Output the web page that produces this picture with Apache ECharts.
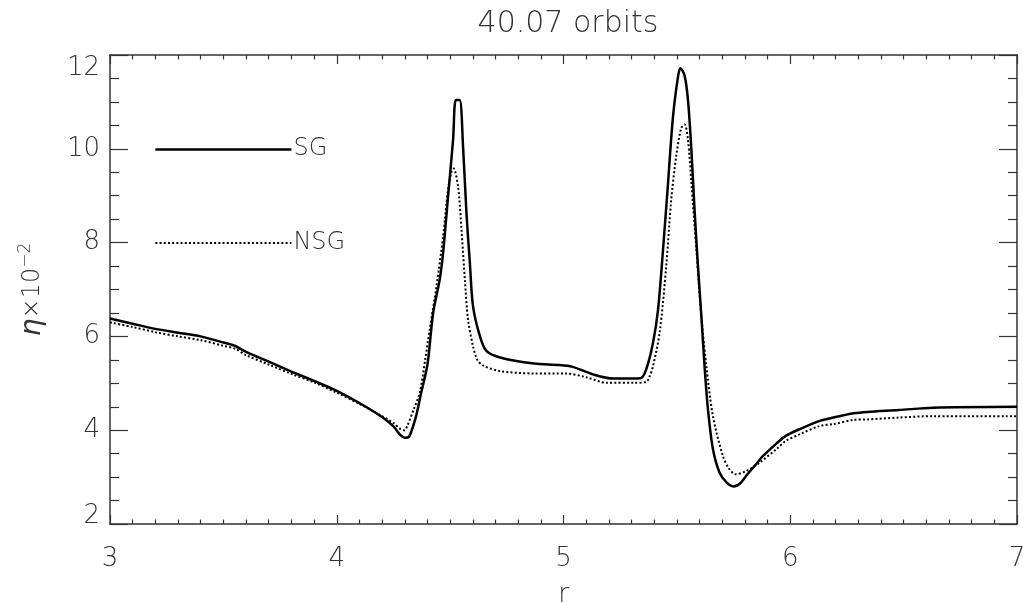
<!DOCTYPE html>
<html>
<head>
<meta charset="utf-8">
<script src="https://cdn.jsdelivr.net/npm/echarts@6/dist/echarts.min.js"></script>
<style>
html,body{margin:0;padding:0;background:#fff;}
#c{width:1023px;height:603px;}
</style>
</head>
<body>
<div id="c"></div>
<script>
const titleText = '40.07 orbits';
const xName = 'r';
const seriesNames = ['SG', 'NSG'];
const sgR = [3.00,3.10,3.20,3.30,3.40,3.50,3.55,3.60,3.70,3.80,3.90,4.00,4.10,4.20,4.25,4.28,4.30,4.32,4.35,4.37,4.40,4.425,4.454,4.469,4.491,4.513,4.525,4.542,4.557,4.572,4.587,4.601,4.631,4.66,4.72,4.87,4.98,5.04,5.13,5.22,5.34,5.365,5.395,5.417,5.439,5.461,5.483,5.505,5.515,5.534,5.549,5.564,5.578,5.593,5.608,5.622,5.637,5.659,5.688,5.72,5.75,5.78,5.806,5.85,5.88,5.94,5.98,6.04,6.13,6.19,6.28,6.34,6.48,6.63,7.00];
const sgEta = [6.38,6.27,6.16,6.08,6.00,5.87,5.80,5.67,5.46,5.25,5.05,4.84,4.58,4.28,4.08,3.90,3.84,3.87,4.30,4.75,5.40,6.50,7.21,7.78,8.99,10.19,11.04,11.04,10.05,8.63,7.57,6.64,6.01,5.69,5.55,5.42,5.39,5.35,5.19,5.10,5.11,5.30,5.87,6.57,7.85,9.27,10.69,11.54,11.72,11.56,11.04,9.98,8.70,7.50,6.43,5.37,4.45,3.60,3.10,2.88,2.80,2.87,3.03,3.28,3.45,3.72,3.88,4.02,4.20,4.27,4.36,4.39,4.43,4.48,4.50];
const nsgR = [3.00,3.10,3.20,3.30,3.40,3.50,3.55,3.60,3.70,3.80,3.90,4.00,4.10,4.20,4.25,4.28,4.30,4.31,4.34,4.366,4.39,4.41,4.44,4.469,4.491,4.505,4.515,4.535,4.55,4.565,4.579,4.601,4.62,4.645,4.72,4.87,5.01,5.10,5.19,5.31,5.365,5.38,5.395,5.424,5.453,5.475,5.497,5.519,5.534,5.549,5.564,5.586,5.608,5.630,5.659,5.703,5.73,5.76,5.806,5.865,5.94,5.98,6.04,6.13,6.19,6.28,6.34,6.48,6.63,7.00];
const nsgEta = [6.30,6.20,6.09,6.00,5.92,5.80,5.74,5.60,5.40,5.20,5.02,4.80,4.56,4.30,4.15,4.03,4.00,4.08,4.45,4.80,5.50,6.15,7.07,8.13,9.13,9.50,9.58,9.20,8.28,7.21,6.36,5.79,5.50,5.38,5.26,5.21,5.21,5.13,5.01,5.01,5.03,5.15,5.37,6.08,7.50,8.91,9.84,10.44,10.52,10.19,9.27,7.85,6.43,5.37,4.30,3.45,3.18,3.06,3.13,3.31,3.60,3.77,3.91,4.09,4.13,4.22,4.23,4.27,4.30,4.30];
const legendR = [3.2, 3.8];
const legendEta = [10, 8];

const FONT = 'DejaVu Sans';
const TXT = '#333';
const AX = '#333';
const zip = (a, b) => a.map((v, i) => [v, b[i]]);

function xAx(pos, showLabel) {
  return {
    type: 'value', position: pos, min: 3, max: 7, interval: 1,
    axisLine: { show: true, onZero: false, lineStyle: { color: AX, width: 1.5 } },
    axisTick: { show: true, inside: true, length: 9, lineStyle: { color: AX, width: 1.2 } },
    minorTick: { show: true, splitNumber: 10, length: 4.5, lineStyle: { color: AX, width: 1.2 } },
    splitLine: { show: false },
    axisLabel: { show: showLabel, fontFamily: FONT, fontWeight: 200, fontSize: 26, color: TXT, margin: 22 },
    name: showLabel ? xName : '', nameLocation: 'middle', nameGap: 58,
    nameTextStyle: { fontFamily: FONT, fontWeight: 200, fontSize: 26, color: TXT }
  };
}
function yAx(pos, showLabel) {
  return {
    type: 'value', position: pos, min: 2, max: 12, interval: 2,
    axisLine: { show: true, onZero: false, lineStyle: { color: AX, width: 1.5 } },
    axisTick: { show: true, inside: true, length: 18, lineStyle: { color: AX, width: 1.2 } },
    minorTick: { show: true, splitNumber: 4, length: 9, lineStyle: { color: AX, width: 1.2 } },
    splitLine: { show: false },
    axisLabel: { show: showLabel, fontFamily: FONT, fontWeight: 200, fontSize: 26, color: TXT, margin: 10,
      verticalAlignMaxLabel: 'top', verticalAlignMinLabel: 'middle',
      formatter: v => v === 2 ? '{m|' + v + '}' : String(v),
      rich: { m: { fontFamily: FONT, fontWeight: 200, fontSize: 26, color: TXT, padding: [0, 0, 16, 0] } } },
    name: showLabel ? '{e|η}{t|×10}{s|−2}' : '', nameLocation: 'middle', nameGap: 62, nameRotate: 90,
    nameTextStyle: { fontFamily: FONT, fontWeight: 200, fontSize: 26, color: TXT,
      rich: {
        e: { fontFamily: FONT, fontStyle: 'italic', fontSize: 28, color: TXT },
        t: { fontFamily: FONT, fontWeight: 200, fontSize: 24, color: TXT },
        s: { fontFamily: FONT, fontWeight: 200, fontSize: 17, color: TXT, verticalAlign: 'top', padding: [0, 0, 14, 0] }
      } }
  };
}

const chart = echarts.init(document.getElementById('c'), null, { renderer: 'canvas' });
chart.setOption({
  animation: false,
  backgroundColor: '#fff',
  title: { text: titleText, left: 563, top: 4, textAlign: 'center',
    textStyle: { fontFamily: FONT, fontWeight: 200, fontSize: 30, color: TXT } },
  grid: { left: 110, right: 6, top: 55, bottom: 79, containLabel: false, outerBoundsMode: 'none' },
  xAxis: [xAx('bottom', true), xAx('top', false)],
  yAxis: [yAx('left', true), yAx('right', false)],
  series: [
    {
      name: seriesNames[0], type: 'line', xAxisIndex: 0, yAxisIndex: 0,
      data: zip(sgR, sgEta), showSymbol: false, symbol: 'none',
      smooth: 0.3,
      lineStyle: { color: '#000', width: 2.5 },
      markLine: {
        silent: true, symbol: 'none',
        lineStyle: { color: '#000', width: 2.5, type: 'solid' },
        label: { show: true, position: 'end', formatter: seriesNames[0], distance: 2,
          fontFamily: FONT, fontWeight: 200, fontSize: 24, color: TXT },
        data: [[{ coord: [legendR[0], legendEta[0]] }, { coord: [legendR[1], legendEta[0]] }]]
      }
    },
    {
      name: seriesNames[1], type: 'line', xAxisIndex: 0, yAxisIndex: 0,
      data: zip(nsgR, nsgEta), showSymbol: false, symbol: 'none',
      smooth: 0.3,
      lineStyle: { color: '#000', width: 2, type: [2, 2.2] },
      markLine: {
        silent: true, symbol: 'none',
        lineStyle: { color: '#000', width: 2, type: [2, 2.2] },
        label: { show: true, position: 'end', formatter: seriesNames[1], distance: 2,
          fontFamily: FONT, fontWeight: 200, fontSize: 24, color: TXT },
        data: [[{ coord: [legendR[0], legendEta[1]] }, { coord: [legendR[1], legendEta[1]] }]]
      }
    }
  ]
});
</script>
</body>
</html>
